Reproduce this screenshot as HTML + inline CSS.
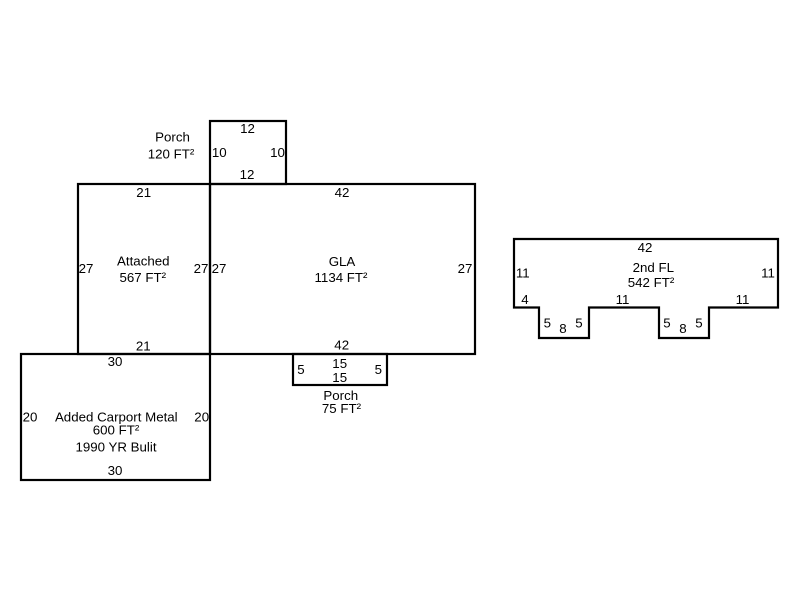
<!DOCTYPE html>
<html>
<head>
<meta charset="utf-8">
<style>
  html, body { margin: 0; padding: 0; background: #ffffff; }
  svg { display: block; }
  text { font-family: "Liberation Sans", Arial, sans-serif; font-size: 13.3px; fill: #000; text-anchor: middle; }
</style>
</head>
<body>
<svg width="800" height="600" viewBox="0 0 800 600" xmlns="http://www.w3.org/2000/svg">
  <rect x="0" y="0" width="800" height="600" fill="#ffffff"/>
  <g fill="none" stroke="#000" stroke-width="2.2" stroke-linejoin="miter" stroke-linecap="square">
    <!-- Porch top -->
    <rect x="210" y="121" width="76" height="63"/>
    <!-- Attached -->
    <rect x="78" y="184" width="132" height="170"/>
    <!-- GLA -->
    <rect x="210" y="184" width="265" height="170"/>
    <!-- Carport -->
    <rect x="21" y="354" width="189" height="126"/>
    <!-- Porch bottom -->
    <rect x="293" y="354" width="94" height="31"/>
    <!-- 2nd FL -->
    <path d="M514 239 L778 239 L778 307.5 L709 307.5 L709 338 L659 338 L659 307.5 L589 307.5 L589 338 L539 338 L539 307.5 L514 307.5 Z"/>
  </g>

  <!-- Porch top labels -->
  <text x="172.5" y="141.5">Porch</text>
  <text x="171" y="158.5">120 FT²</text>
  <text x="247.5" y="133">12</text>
  <text x="219.3" y="157">10</text>
  <text x="277.5" y="157">10</text>
  <text x="247" y="179">12</text>

  <!-- Attached -->
  <text x="143.7" y="197">21</text>
  <text x="86" y="273">27</text>
  <text x="143.3" y="265.5">Attached</text>
  <text x="142.8" y="282">567 FT²</text>
  <text x="201" y="273">27</text>
  <text x="143.3" y="350.5">21</text>

  <!-- GLA -->
  <text x="219" y="273">27</text>
  <text x="342" y="197">42</text>
  <text x="342" y="266">GLA</text>
  <text x="341" y="282">1134 FT²</text>
  <text x="465" y="273">27</text>
  <text x="341.7" y="349.5">42</text>

  <!-- Carport -->
  <text x="115" y="366">30</text>
  <text x="30" y="421.5">20</text>
  <text x="201.7" y="421.5">20</text>
  <text x="116.3" y="421.7">Added Carport Metal</text>
  <text x="116" y="434.3">600 FT²</text>
  <text x="116" y="451.7">1990 YR Bulit</text>
  <text x="115" y="475">30</text>

  <!-- Porch bottom -->
  <text x="301" y="374">5</text>
  <text x="339.7" y="368">15</text>
  <text x="339.7" y="382">15</text>
  <text x="378.3" y="374">5</text>
  <text x="340.8" y="400">Porch</text>
  <text x="341.5" y="413">75 FT²</text>

  <!-- 2nd FL -->
  <text x="645" y="252">42</text>
  <text x="522.8" y="277.5">11</text>
  <text x="653.3" y="272">2nd FL</text>
  <text x="651" y="287">542 FT²</text>
  <text x="768" y="277.5">11</text>
  <text x="525" y="304">4</text>
  <text x="622.5" y="304">11</text>
  <text x="742.5" y="304">11</text>
  <text x="547.3" y="327.5">5</text>
  <text x="563" y="333">8</text>
  <text x="579" y="327.5">5</text>
  <text x="667" y="327.5">5</text>
  <text x="683" y="333">8</text>
  <text x="699" y="327.5">5</text>
</svg>
</body>
</html>
